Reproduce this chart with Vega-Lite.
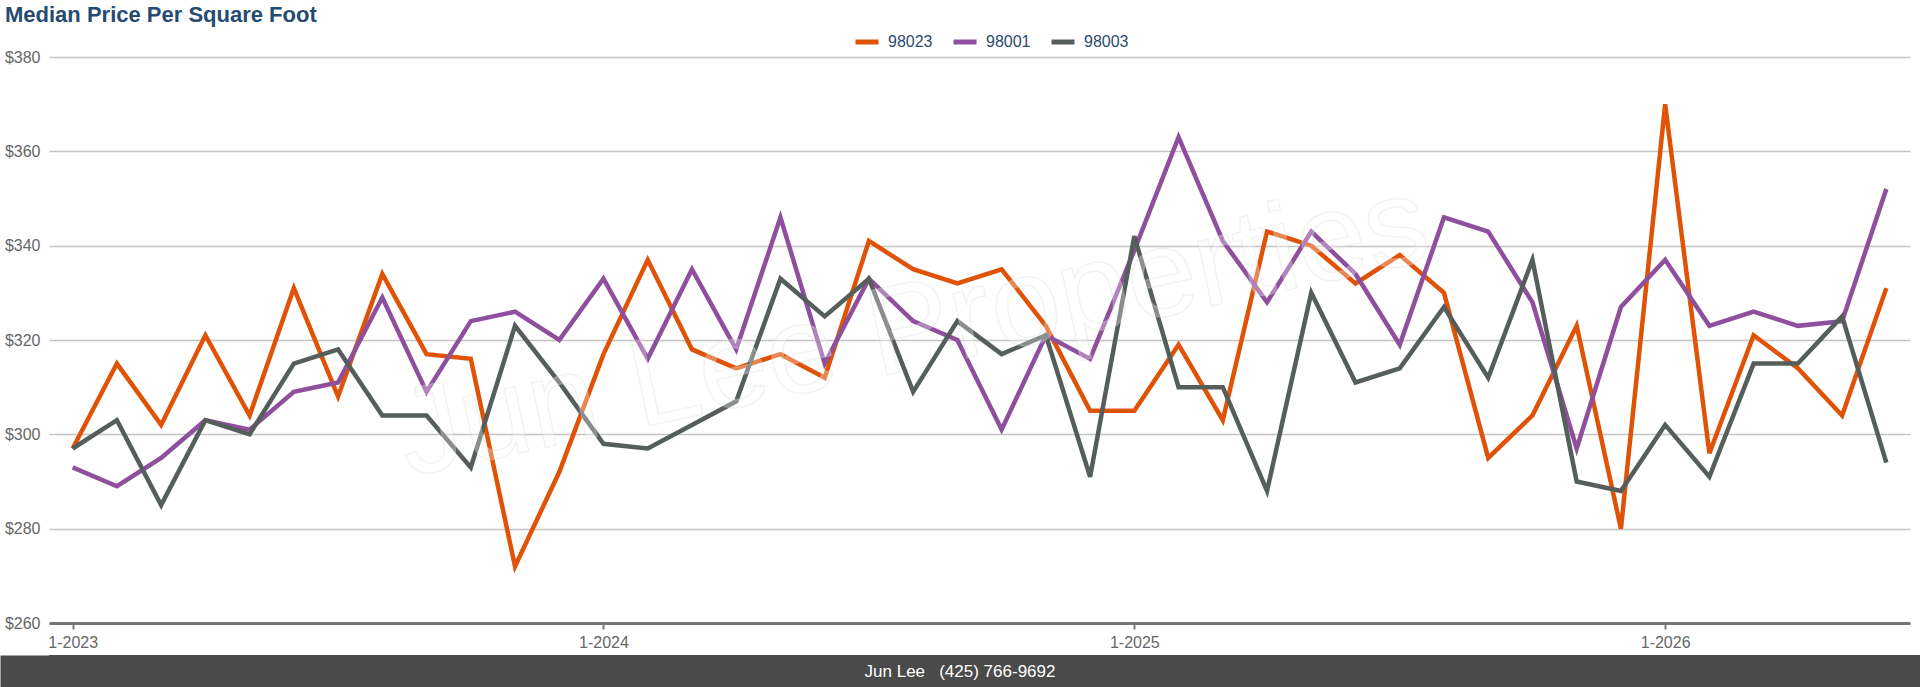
{
  "$schema": "https://vega.github.io/schema/vega-lite/v6.json",
  "background": "white",
  "padding": {"left": 0, "top": 4, "right": 0, "bottom": 0},
  "autosize": {"type": "pad"},
  "spacing": 5,
  "config": {
    "font": "Liberation Sans",
    "view": {"stroke": null}
  },
  "vconcat": [
    {
      "width": 1861,
      "height": 566,
      "title": {
        "text": "Median Price Per Square Foot",
        "anchor": "start",
        "frame": "bounds",
        "fontSize": 22,
        "fontWeight": "bold",
        "color": "#244b72",
        "offset": 22,
        "dx": 5
      },
      "layer": [
        {
          "data": {
            "values": [
              {"month": "1-2023", "98023": 297, "98001": 293, "98003": 297},
              {"month": "2-2023", "98023": 315, "98001": 289, "98003": 303},
              {"month": "3-2023", "98023": 302, "98001": 295, "98003": 285},
              {"month": "4-2023", "98023": 321, "98001": 303, "98003": 303},
              {"month": "5-2023", "98023": 304, "98001": 301, "98003": 300},
              {"month": "6-2023", "98023": 331, "98001": 309, "98003": 315},
              {"month": "7-2023", "98023": 308, "98001": 311, "98003": 318},
              {"month": "8-2023", "98023": 334, "98001": 329, "98003": 304},
              {"month": "9-2023", "98023": 317, "98001": 309, "98003": 304},
              {"month": "10-2023", "98023": 316, "98001": 324, "98003": 293},
              {"month": "11-2023", "98023": 272, "98001": 326, "98003": 323},
              {"month": "12-2023", "98023": 292, "98001": 320, "98003": 311},
              {"month": "1-2024", "98023": 317, "98001": 333, "98003": 298},
              {"month": "2-2024", "98023": 337, "98001": 316, "98003": 297},
              {"month": "3-2024", "98023": 318, "98001": 335, "98003": 302},
              {"month": "4-2024", "98023": 314, "98001": 318, "98003": 307},
              {"month": "5-2024", "98023": 317, "98001": 346, "98003": 333},
              {"month": "6-2024", "98023": 312, "98001": 315, "98003": 325},
              {"month": "7-2024", "98023": 341, "98001": 333, "98003": 333},
              {"month": "8-2024", "98023": 335, "98001": 324, "98003": 309},
              {"month": "9-2024", "98023": 332, "98001": 320, "98003": 324},
              {"month": "10-2024", "98023": 335, "98001": 301, "98003": 317},
              {"month": "11-2024", "98023": 323, "98001": 321, "98003": 321},
              {"month": "12-2024", "98023": 305, "98001": 316, "98003": 291},
              {"month": "1-2025", "98023": 305, "98001": 339, "98003": 342},
              {"month": "2-2025", "98023": 319, "98001": 363, "98003": 310},
              {"month": "3-2025", "98023": 303, "98001": 341, "98003": 310},
              {"month": "4-2025", "98023": 343, "98001": 328, "98003": 288},
              {"month": "5-2025", "98023": 340, "98001": 343, "98003": 330},
              {"month": "6-2025", "98023": 332, "98001": 334, "98003": 311},
              {"month": "7-2025", "98023": 338, "98001": 319, "98003": 314},
              {"month": "8-2025", "98023": 330, "98001": 346, "98003": 327},
              {"month": "9-2025", "98023": 295, "98001": 343, "98003": 312},
              {"month": "10-2025", "98023": 304, "98001": 328, "98003": 337},
              {"month": "11-2025", "98023": 323, "98001": 297, "98003": 290},
              {"month": "12-2025", "98023": 280, "98001": 327, "98003": 288},
              {"month": "1-2026", "98023": 370, "98001": 337, "98003": 302},
              {"month": "2-2026", "98023": 296, "98001": 323, "98003": 291},
              {"month": "3-2026", "98023": 321, "98001": 326, "98003": 315},
              {"month": "4-2026", "98023": 314, "98001": 323, "98003": 315},
              {"month": "5-2026", "98023": 304, "98001": 324, "98003": 325},
              {"month": "6-2026", "98023": 331, "98001": 352, "98003": 294}
            ]
          },
          "transform": [
            {"fold": ["98023", "98001", "98003"], "as": ["zip", "price"]}
          ],
          "mark": {"type": "line", "strokeWidth": 4.5, "strokeJoin": "miter", "strokeCap": "butt"},
          "encoding": {
            "x": {
              "field": "month",
              "type": "ordinal",
              "sort": null,
              "scale": {"type": "point", "padding": 0.535},
              "axis": {
                "title": null,
                "values": ["1-2023", "1-2024", "1-2025", "1-2026"],
                "labelAngle": 0,
                "labelFontSize": 16,
                "labelColor": "#666666",
                "labelPadding": 5,
                "ticks": true,
                "tickSize": 6,
                "tickWidth": 2,
                "tickColor": "#777777",
                "domain": true,
                "domainColor": "#777777",
                "domainWidth": 3,
                "grid": false,
                "minExtent": 25,
                "maxExtent": 25
              }
            },
            "y": {
              "field": "price",
              "type": "quantitative",
              "scale": {"domain": [260, 380], "nice": false, "zero": false},
              "axis": {
                "title": null,
                "values": [260, 280, 300, 320, 340, 360, 380],
                "labelExpr": "'$' + datum.value",
                "labelFontSize": 16,
                "labelColor": "#666666",
                "labelPadding": 9,
                "ticks": false,
                "domain": false,
                "grid": true,
                "gridColor": "#c4c4c4",
                "gridWidth": 1.5,
                "minExtent": 49,
                "maxExtent": 49
              }
            },
            "color": {
              "field": "zip",
              "type": "nominal",
              "sort": ["98023", "98001", "98003"],
              "scale": {
                "domain": ["98023", "98001", "98003"],
                "range": ["#e05206", "#8e4f9d", "#565e5c"]
              },
              "legend": {
                "title": null,
                "orient": "none",
                "legendX": 804,
                "legendY": -29,
                "direction": "horizontal",
                "symbolType": "stroke",
                "symbolSize": 529,
                "symbolStrokeWidth": 5,
                "labelFontSize": 16,
                "labelColor": "#2c4a6e",
                "labelOffset": 7,
                "columnPadding": 10
              }
            }
          }
        },
        {
          "data": {"values": [{"wm": "Jun Lee Properties"}]},
          "mark": {
            "type": "text",
            "angle": -12,
            "fontSize": 125,
            "font": "Liberation Sans",
            "fill": "white",
            "fillOpacity": 0.3,
            "stroke": "#d8d8d8",
            "strokeOpacity": 0.3,
            "strokeWidth": 1.5,
            "align": "center",
            "baseline": "middle"
          },
          "encoding": {
            "x": {"datum": "8-2024"},
            "y": {"datum": 322},
            "text": {"field": "wm"}
          }
        }
      ]
    },
    {
      "width": 1871,
      "height": 33,
      "view": {"fill": "#4a4a4a", "stroke": null},
      "data": {"values": [{"label": "Jun Lee\u00a0\u00a0\u00a0(425) 766-9692"}]},
      "mark": {"type": "text", "fontSize": 17, "color": "#ffffff", "align": "center", "baseline": "middle", "dx": -24.5},
      "encoding": {
        "text": {"field": "label"},
        "y": {
          "datum": 0,
          "type": "quantitative",
          "scale": {"domain": [-1, 1]},
          "axis": {
            "title": null,
            "labels": false,
            "ticks": false,
            "grid": false,
            "domain": true,
            "domainColor": "#4a4a4a",
            "domainWidth": 98,
            "domainCap": "butt",
            "minExtent": 49,
            "maxExtent": 49
          }
        }
      }
    }
  ]
}
